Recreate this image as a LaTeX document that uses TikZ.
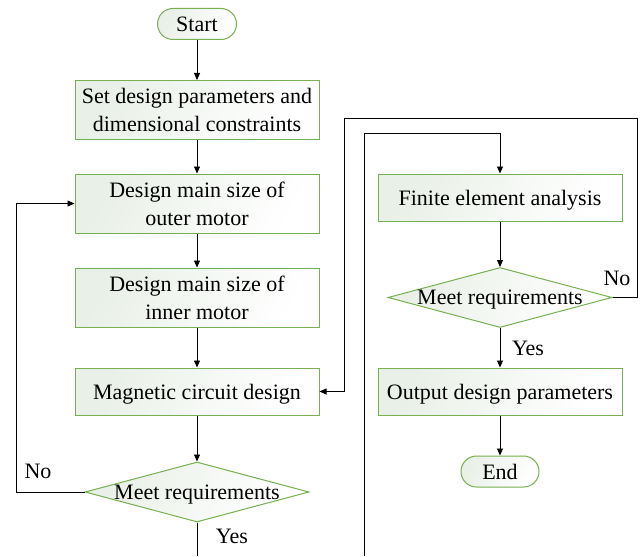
\documentclass[tikz,border=0pt]{standalone}
\usepackage{fontspec}
\setmainfont{Liberation Serif}
\usetikzlibrary{shapes.geometric,shapes.misc,arrows.meta}
\definecolor{bordergreen}{RGB}{118,176,80}
\definecolor{fillgreen}{RGB}{233,240,231}
\begin{document}
\begin{tikzpicture}[x=1pt,y=-1pt,
  every node/.style={font=\fontsize{22}{28}\selectfont},
  procbox/.style={rectangle,draw=bordergreen,line width=1pt,minimum width=244pt,minimum height=59pt,inner sep=0pt,align=center,text depth=0pt,shading=axis,left color=fillgreen,right color=white,shading angle=60},
  procshort/.style={procbox,minimum height=47pt},
  term/.style={rounded rectangle,draw=bordergreen,line width=1pt,minimum height=31pt,inner sep=0pt,text depth=0pt,shading=axis,left color=fillgreen,right color=white,shading angle=60},
  decide/.style={diamond,draw=bordergreen,line width=1pt,minimum width=224pt,minimum height=60pt,inner sep=0pt,shading=axis,left color=fillgreen,right color=white,shading angle=60},
  flow/.style={line width=0.8pt,-{Triangle[length=7pt,width=6pt]}},
  plain/.style={line width=0.8pt},
  lbl/.style={inner sep=0pt},
  dtext/.style={inner sep=0pt,text depth=0pt}
]
\useasboundingbox (0,0) rectangle (644,556);
\node[term,minimum width=79pt] (start) at (197,24) {Start};
\node[procbox] (set) at (197,110) {Set design parameters and\\dimensional constraints};
\node[procbox] (outer) at (197,203.5) {Design main size of\\outer motor};
\node[procbox] (inner) at (197,297.5) {Design main size of\\inner motor};
\node[procshort] (mag) at (197,391.5) {Magnetic circuit design};
\node[decide] (d1) at (197,492) {};
\node[dtext] (d1t) at (197,492) {Meet requirements};
\node[lbl] (no1) at (38,471) {No};
\node[lbl] (yes1) at (232,536) {Yes};

\node[procshort] (fea) at (500,197.5) {Finite element analysis};
\node[decide] (d2) at (500,297.5) {};
\node[dtext] (d2t) at (500,297.5) {Meet requirements};
\node[lbl] (no2) at (617,278) {No};
\node[lbl] (yes2) at (528,348) {Yes};
\node[procshort] (out) at (500,391.5) {Output design parameters};
\node[term,minimum width=78pt] (end) at (500,471.5) {End};

\coordinate (b1) at (197,556);
\coordinate (b2) at (364,556);
\coordinate (t2) at (364,133);
\coordinate (t2r) at (500,133);
\coordinate (l1) at (16,492);
\coordinate (l2) at (16,203.5);
\coordinate (r1) at (637,297.5);
\coordinate (r2) at (637,118);
\coordinate (r3) at (344,118);
\coordinate (r4) at (344,391.5);

\draw[flow] (start) -- (set);
\draw[flow] (set) -- (outer);
\draw[flow] (outer) -- (inner);
\draw[flow] (inner) -- (mag);
\draw[flow] (mag) -- (d1);
\draw[plain] (d1) -- (b1);
\draw[flow] (d1.west) -- (l1) -- (l2) -- (outer.west);
\draw[flow] (b2) -- (t2) -- (t2r) -- (fea.north);
\draw[flow] (fea) -- (d2);
\draw[flow] (d2) -- (out);
\draw[flow] (out) -- (end);
\draw[flow] (d2.east) -- (r1) -- (r2) -- (r3) -- (r4) -- (mag.east);
\end{tikzpicture}
\end{document}
